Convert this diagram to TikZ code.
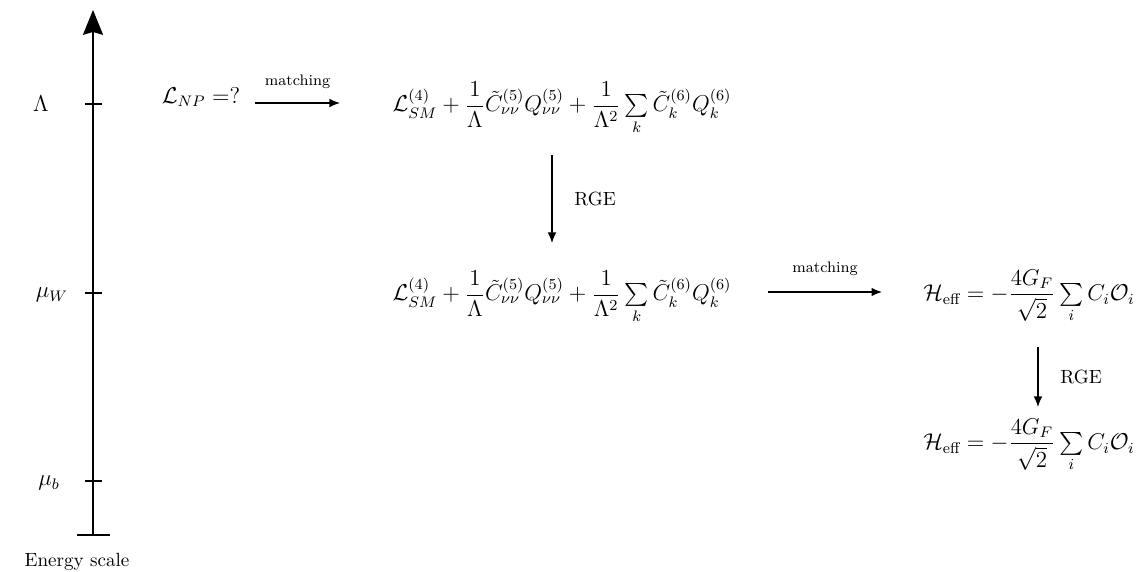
\documentclass[tikz,border=0pt]{standalone}
\usepackage{amsmath}
\usetikzlibrary{arrows.meta}
\begin{document}
\begin{tikzpicture}[x=0.5236pt,y=-0.5236pt,
  axisline/.style={line width=0.9pt},
  flow/.style={line width=0.7pt,-{Latex[length=5.5pt,width=4.5pt]}},
  lbl/.style={font=\footnotesize},
  mth/.style={font=\large}]
\useasboundingbox (0,0) rectangle (1145,572);
% axis
\coordinate (bot) at (93,535);
\coordinate (top) at (93,10);
\coordinate (bl) at (77,535);
\coordinate (br) at (110,535);
\draw[axisline,-{Stealth[length=13pt,width=10.5pt,inset=1.5pt]}] (bot) -- (top);
\draw[axisline] (bl) -- (br);
\foreach \yy/\nm in {104/tL,293/tW,481/tb}{
  \coordinate (\nm a) at (85,\yy);
  \coordinate (\nm b) at (102,\yy);
  \draw[axisline] (\nm a) -- (\nm b);
}
\node[mth] (lL) at (41,104) {$\Lambda$};
\node[mth] (lW) at (52,295) {$\mu_W$};
\node[mth] (lb) at (49,483) {$\mu_b$};
\node (es) at (77,562) {Energy scale};
% top row
\node[mth] (np) at (201,97) {$\mathcal{L}_{NP}=?$};
\node[mth] (f1) at (562,108) {$\mathcal{L}_{SM}^{(4)} + \dfrac{1}{\Lambda}\tilde{C}^{(5)}_{\nu\nu}Q^{(5)}_{\nu\nu} + \dfrac{1}{\Lambda^2}\sum\limits_k \tilde{C}^{(6)}_k Q^{(6)}_k$};
\coordinate (m1a) at (255,103);
\coordinate (m1b) at (340,103);
\draw[flow] (m1a) -- node[lbl,above=4pt] (m1l) {matching} (m1b);
% middle
\node[mth] (f2) at (562,297) {$\mathcal{L}_{SM}^{(4)} + \dfrac{1}{\Lambda}\tilde{C}^{(5)}_{\nu\nu}Q^{(5)}_{\nu\nu} + \dfrac{1}{\Lambda^2}\sum\limits_k \tilde{C}^{(6)}_k Q^{(6)}_k$};
\coordinate (r1a) at (552,155);
\coordinate (r1b) at (552,243);
\draw[flow] (r1a) -- node[right=8pt] (r1l) {RGE} (r1b);
\coordinate (m2a) at (768,292);
\coordinate (m2b) at (882,292);
\draw[flow] (m2a) -- node[lbl,above=5pt] (m2l) {matching} (m2b);
\node[mth] (h1) at (1029,296) {$\mathcal{H}_{\text{eff}} = -\dfrac{4G_F}{\sqrt{2}}\sum\limits_i C_i\mathcal{O}_i$};
\coordinate (r2a) at (1038,347);
\coordinate (r2b) at (1038,407);
\draw[flow] (r2a) -- node[right=8pt] (r2l) {RGE} (r2b);
\node[mth] (h2) at (1029,445) {$\mathcal{H}_{\text{eff}} = -\dfrac{4G_F}{\sqrt{2}}\sum\limits_i C_i\mathcal{O}_i$};
\end{tikzpicture}
\end{document}
